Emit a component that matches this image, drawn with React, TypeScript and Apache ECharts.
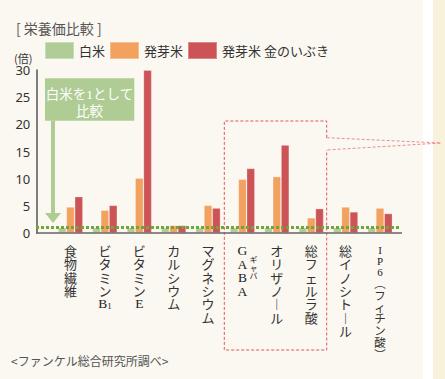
import React, { useEffect, useRef } from "react";
import * as echarts from "echarts";

const categories = ["食物繊維", "ビタミンB1", "ビタミンE", "カルシウム", "マグネシウム", "GABA", "オリザノール", "総フェルラ酸", "総イノシトール", "IP6(フィチン酸)"];
const seriesNames = ["白米", "発芽米", "発芽米 金のいぶき"];
const whiteRice = [1, 1, 1, 1, 1, 1, 1, 1, 1, 1];
const germinated = [4.8, 4.2, 10.1, 1.4, 5.1, 9.9, 10.4, 2.8, 4.8, 4.6];
const kinNoIbuki = [6.7, 5.1, 30, 1.4, 4.6, 11.9, 16.2, 4.5, 3.9, 3.6];
const yMin = 0;
const yMax = 30;
const yInterval = 5;
const baseline = 1;

const COLORS = ["#b0cd97", "#f3a15f", "#cc5457"];
const JP = "'Noto Sans CJK JP', 'Noto Sans', sans-serif";
const SERIF = "'Liberation Serif', 'DejaVu Serif', 'Noto Sans CJK JP', serif";

const VMAP: Record<string, string> = { "ー": "︱", "(": "︵", ")": "︶" };

function toVertical(v: string): string {
  if (v === "ビタミンB1") {
    return ["{j|ビ}", "{j|タ}", "{j|ミ}", "{j|ン}", "{l|B}{s|1}"].join("\n");
  }
  const narrow = v.startsWith("IP6");
  return Array.from(v)
    .map((c) => {
      if (/[A-Za-z0-9]/.test(c)) return `{${narrow ? "n" : "l"}|${c}}`;
      const m = VMAP[c] || c;
      return `{${narrow ? "k" : "j"}|${m}}`;
    })
    .join("\n");
}

export default function App() {
  const ref = useRef<HTMLDivElement>(null);
  useEffect(() => {
    document.body.style.margin = "0";
    if (!ref.current) return;
    const chart = echarts.init(ref.current, null, { renderer: "svg" });
    const barStyle = (c: string) => ({ color: c, borderColor: "rgba(255,255,255,0.3)", borderWidth: 0.8 });
    chart.setOption({
      animation: false,
      backgroundColor: "#faf8f1",
      grid: { left: 53.3, right: 47.8, top: 70, bottom: 146 },
      legend: {
        left: 44,
        top: 41,
        itemWidth: 29,
        itemHeight: 17,
        itemGap: 4,
        icon: "rect",
        padding: 0,
        textStyle: { fontSize: 13, color: "#333", fontFamily: JP, padding: [0, 0, 0, 0] },
        data: seriesNames,
      },
      xAxis: {
        type: "category",
        data: categories,
        axisLine: { show: false },
        axisTick: { show: false },
        axisLabel: {
          interval: 0,
          margin: 11,
          formatter: (v: string) => toVertical(v),
          rich: {
            j: { fontSize: 13, lineHeight: 13.3, fontFamily: JP, color: "#333" },
            k: { fontSize: 11.5, lineHeight: 11.8, fontFamily: JP, color: "#333" },
            l: { fontSize: 13.5, lineHeight: 13.5, fontFamily: SERIF, color: "#222" },
            n: { fontSize: 11, lineHeight: 11, fontFamily: SERIF, color: "#222" },
            s: { fontSize: 9, lineHeight: 13.5, fontFamily: SERIF, color: "#222", verticalAlign: "bottom" },
          },
        },
      },
      yAxis: {
        type: "value",
        min: yMin,
        max: yMax,
        interval: yInterval,
        offset: 17,
        axisLine: { show: true, lineStyle: { color: "#555", width: 1.5 } },
        axisTick: { show: false },
        splitLine: { show: false },
        axisLabel: { fontSize: 13, color: "#333", margin: 6, fontFamily: "'Noto Sans', sans-serif" },
      },
      series: [
        { name: seriesNames[0], type: "bar", data: whiteRice, barWidth: 8.3, barGap: "0%", itemStyle: barStyle(COLORS[0]) },
        { name: seriesNames[1], type: "bar", data: germinated, barWidth: 8.3, barGap: "0%", itemStyle: barStyle(COLORS[1]) },
        { name: seriesNames[2], type: "bar", data: kinNoIbuki, barWidth: 8.3, barGap: "0%", itemStyle: barStyle(COLORS[2]) },
      ],
    });

    const y0 = chart.convertToPixel({ yAxisIndex: 0 }, 0) as number;
    const y1 = chart.convertToPixel({ yAxisIndex: 0 }, baseline) as number;
    const red = "#e0575a";

    chart.setOption({
      graphic: {
        elements: [
          { type: "rect", z: -10, shape: { x: 423, y: 0, width: 10, height: 379 }, style: { fill: "#ffffff" } },
          { type: "rect", z: -10, shape: { x: 433, y: 0, width: 12, height: 379 }, style: { fill: "#f8f1dc" } },
          { type: "text", x: 16, y: 28, style: { text: "[ 栄養価比較 ]", fontSize: 14, fill: "#555", fontFamily: JP, verticalAlign: "middle" } },
          { type: "text", x: 14, y: 58, style: { text: "(倍)", fontSize: 11, fill: "#333", fontFamily: JP, verticalAlign: "middle" } },
          { type: "text", x: 11, y: 360, style: { text: "<ファンケル総合研究所調べ>", fontSize: 12, fill: "#555", fontFamily: JP, verticalAlign: "middle" } },
          // annotation box
          { type: "rect", z: 5, shape: { x: 45, y: 78.3, width: 89.3, height: 42.4 }, style: { fill: "#afcc95" } },
          { type: "text", z: 6, x: 89.5, y: 103.3, style: { text: "白米を1として\n比較", fontSize: 13.5, lineHeight: 17, fill: "#fff", fontFamily: SERIF, align: "center", verticalAlign: "middle" } },
          { type: "rect", z: 5, shape: { x: 51, y: 120.7, width: 4, height: 93 }, style: { fill: "#afcc95" } },
          { type: "polygon", z: 5, shape: { points: [[45, 213], [61, 213], [53, 223]] }, style: { fill: "#afcc95" } },
          // ruby for GABA
          { type: "text", z: 6, x: 249.5, y: 255, style: { text: "ギ\nャ\nバ", fontSize: 8, lineHeight: 8, fill: "#222", fontFamily: JP, verticalAlign: "top" } },
          // dashed callout
          { type: "polyline", z: 6, shape: { points: [[326.7, 137.7], [326.7, 121], [224.3, 121], [224.3, 350], [326.7, 350], [326.7, 150]] }, style: { stroke: red, lineWidth: 1, lineDash: [3, 2], fill: null } },
          { type: "polyline", z: 6, shape: { points: [[326.7, 137.7], [441, 143], [326.7, 150]] }, style: { stroke: "#e77a7c", lineWidth: 1, lineDash: [3, 2], fill: null, opacity: 0.85 } },
          // axis line and baseline
          { type: "line", z: 20, shape: { x1: 36, y1: y0, x2: 402, y2: y0 }, style: { stroke: "#666", lineWidth: 1.5 } },
          { type: "line", z: 21, shape: { x1: 36, y1: y1, x2: 401, y2: y1 }, style: { stroke: "#6fa63a", lineWidth: 3, lineDash: [3, 2] } },
        ],
      },
    });

    return () => chart.dispose();
  }, []);
  return <div ref={ref} style={{ width: 445, height: 379 }} />;
}
